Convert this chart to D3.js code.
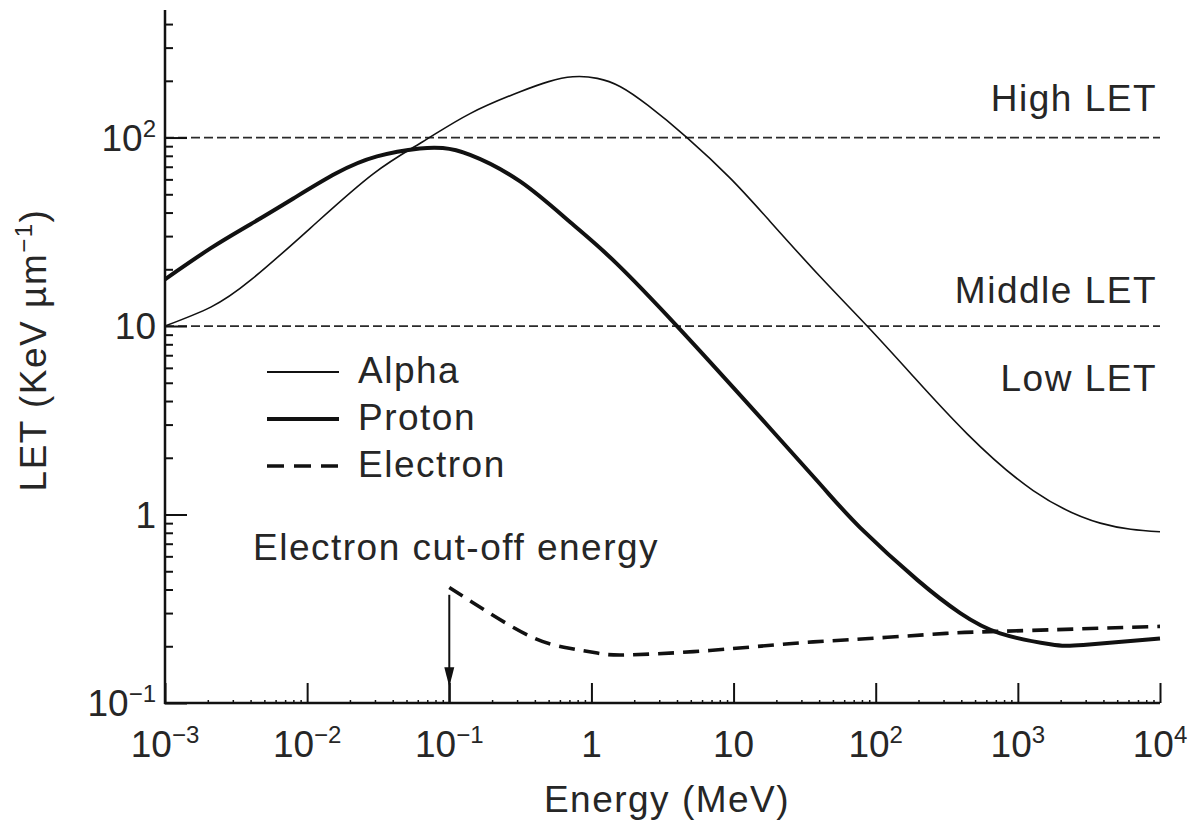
<!DOCTYPE html>
<html>
<head>
<meta charset="utf-8">
<script src="https://cdn.jsdelivr.net/npm/d3@7"></script>
<style>
  html, body { margin: 0; padding: 0; background: #fff; }
  svg { display: block; font-family: "Liberation Sans", Arial, sans-serif; }
</style>
</head>
<body>
<div class="plot-container"></div>
<script>
// energies in MeV, LET in keV/um
const alphaEnergy = [0.001, 0.0021, 0.004, 0.0105, 0.029, 0.065, 0.14, 0.315, 0.5, 0.74, 1.1, 1.6, 2.5, 4.7, 9.5, 18, 40.6, 87, 184, 440, 1282, 3800, 10000];
const alphaLET    = [10, 12.6, 17.5, 33, 64, 95, 134, 175, 198, 210, 206, 186, 148, 100, 60.7, 36, 18.3, 10, 5.4, 2.68, 1.34, 0.9, 0.81];

const protonEnergy = [0.001, 0.0021, 0.004, 0.008, 0.016, 0.031, 0.062, 0.09, 0.14, 0.315, 0.71, 1.5, 4.0, 10, 38.7, 78, 196, 393, 751, 1690, 2885, 10000];
const protonLET    = [17.7, 25.9, 34.7, 47.5, 64.6, 79.4, 87.5, 88, 81, 58.5, 35.5, 21.5, 10, 4.7, 1.51, 0.85, 0.45, 0.30, 0.234, 0.205, 0.203, 0.22];

const electronEnergy = [0.1, 0.185, 0.39, 0.7, 1.1, 1.8, 6.8, 25.8, 90, 313, 751, 10000];
const electronLET    = [0.41, 0.305, 0.222, 0.195, 0.184, 0.18, 0.19, 0.207, 0.22, 0.234, 0.24, 0.255];

const electronCutoff = 0.1;
const letThresholds = [100, 10];

const xTickValues = [1e-3, 1e-2, 1e-1, 1, 10, 100, 1e3, 1e4];
const xTickLabels = [["10", "\u22123"], ["10", "\u22122"], ["10", "\u22121"], ["1", ""], ["10", ""], ["10", "2"], ["10", "3"], ["10", "4"]];
const yTickValues = [0.1, 1, 10, 100];
const yTickLabels = [["10", "\u22121"], ["1", ""], ["10", ""], ["10", "2"]];

const legendNames = ["Alpha", "Proton", "Electron"];
const letRegionNames = ["High LET", "Middle LET", "Low LET"];

const width = 1201, height = 828;
const LEFT = 165, RIGHT = 1160, TOP = 10, BOTTOM = 703;
const INK = "#111";
const TEXT = "#262626";
const FONT = "37px";
const SPACING = "1.5px";

const svg = d3.select("div.plot-container").append("svg")
  .attr("width", width).attr("height", height);

const x = d3.scaleLog().domain([1e-3, 1e4]).range([LEFT, RIGHT]);
const y = d3.scaleLog().domain([0.1, 475]).range([BOTTOM, TOP]);

const line = d3.line()
  .x(d => x(d[0]))
  .y(d => y(d[1]))
  .curve(d3.curveNatural);

// LET threshold lines
svg.append("g")
  .selectAll("line")
  .data(letThresholds)
  .enter()
  .append("line")
  .attr("x1", LEFT).attr("x2", RIGHT)
  .attr("y1", d => y(d)).attr("y2", d => y(d))
  .attr("stroke", "#2a2a2a")
  .attr("stroke-width", 1.7)
  .attr("stroke-dasharray", "9,4");

// axes: ticks point into the plot
const yAxis = d3.axisRight(y)
  .tickValues(yTickValues)
  .tickSize(22)
  .tickSizeOuter(0)
  .tickFormat("");
const yMinor = d3.axisRight(y)
  .tickValues(y.ticks().filter(v => !yTickValues.includes(v)))
  .tickSize(8)
  .tickSizeOuter(0)
  .tickFormat("");
const xAxis = d3.axisTop(x)
  .tickValues(xTickValues)
  .tickSize(20)
  .tickSizeOuter(0)
  .tickFormat("");
const xMinor = d3.axisTop(x)
  .tickValues(x.ticks().filter(v => !xTickValues.includes(v)))
  .tickSize(3)
  .tickSizeOuter(0)
  .tickFormat("");

[yAxis, yMinor].forEach(ax => {
  svg.append("g").attr("transform", `translate(${LEFT},0)`).call(ax)
    .call(g => g.selectAll("line").attr("stroke", INK).attr("stroke-width", 2));
});
[xAxis, xMinor].forEach((ax, i) => {
  svg.append("g").attr("transform", `translate(0,${BOTTOM})`).call(ax)
    .call(g => g.selectAll("line").attr("stroke", INK).attr("stroke-width", i ? 1.5 : 2));
});
svg.selectAll(".domain").remove();
svg.append("line").attr("x1", LEFT).attr("x2", LEFT).attr("y1", TOP).attr("y2", BOTTOM + 1)
  .attr("stroke", INK).attr("stroke-width", 2.5);
svg.append("line").attr("x1", LEFT - 1).attr("x2", RIGHT).attr("y1", BOTTOM).attr("y2", BOTTOM)
  .attr("stroke", INK).attr("stroke-width", 2.5);

function powLabel(sel, parts) {
  sel.append("tspan").text(parts[0]);
  if (parts[1]) {
    sel.append("tspan").attr("dy", -14).style("font-size", "24px").text(parts[1]);
  }
}

// tick labels
svg.append("g")
  .selectAll("text")
  .data(xTickValues)
  .enter()
  .append("text")
  .attr("x", d => x(d))
  .attr("y", 757)
  .attr("text-anchor", "middle")
  .attr("fill", TEXT)
  .style("font-size", FONT)
  .each(function(d, i) { powLabel(d3.select(this), xTickLabels[i]); });

svg.append("g")
  .selectAll("text")
  .data(yTickValues)
  .enter()
  .append("text")
  .attr("x", 156)
  .attr("y", d => y(d) + 13)
  .attr("text-anchor", "end")
  .attr("fill", TEXT)
  .style("font-size", FONT)
  .each(function(d, i) { powLabel(d3.select(this), yTickLabels[i]); });

// axis titles
svg.append("text")
  .attr("x", 667).attr("y", 812)
  .attr("text-anchor", "middle")
  .attr("fill", TEXT)
  .style("font-size", FONT)
  .style("letter-spacing", SPACING)
  .text("Energy (MeV)");

const yTitle = svg.append("text")
  .attr("transform", "translate(46,350) rotate(-90)")
  .attr("text-anchor", "middle")
  .attr("fill", TEXT)
  .style("font-size", FONT)
  .style("letter-spacing", SPACING);
yTitle.append("tspan").text("LET (KeV \u00b5m");
yTitle.append("tspan").attr("dy", -14).style("font-size", "24px").text("\u22121");
yTitle.append("tspan").attr("dy", 14).text(")");

// curves
const series = [
  { name: "Alpha", data: d3.zip(alphaEnergy, alphaLET), width: 1.6, legendWidth: 2.2, dash: null },
  { name: "Proton", data: d3.zip(protonEnergy, protonLET), width: 4, legendWidth: 4, dash: null },
  { name: "Electron", data: d3.zip(electronEnergy, electronLET), width: 3.6, legendWidth: 3.6, dash: "16,9" }
];

svg.append("g")
  .selectAll("path")
  .data(series)
  .enter()
  .append("path")
  .attr("d", d => line(d.data))
  .attr("fill", "none")
  .attr("stroke", INK)
  .attr("stroke-width", d => d.width)
  .attr("stroke-dasharray", d => d.dash)
  .attr("stroke-linejoin", "round");

// LET region labels, placed around the threshold lines
const letLabelY = [y(letThresholds[0]) - 27, y(letThresholds[1]) - 23, y(letThresholds[1]) + 65];
svg.append("g")
  .selectAll("text")
  .data(letRegionNames)
  .enter()
  .append("text")
  .attr("x", 1157)
  .attr("y", (d, i) => letLabelY[i])
  .attr("text-anchor", "end")
  .attr("fill", TEXT)
  .style("font-size", FONT)
  .style("letter-spacing", SPACING)
  .text(d => d);

// legend
const legend = svg.append("g").attr("transform", "translate(267,372)");
legend.selectAll("line")
  .data(series)
  .enter()
  .append("line")
  .attr("x1", 0).attr("x2", 72)
  .attr("y1", (d, i) => i * 47).attr("y2", (d, i) => i * 47)
  .attr("stroke", INK)
  .attr("stroke-width", d => d.legendWidth)
  .attr("stroke-dasharray", d => d.dash ? "17,10" : null);
legend.selectAll("text")
  .data(legendNames)
  .enter()
  .append("text")
  .attr("x", 91)
  .attr("y", (d, i) => i * 47 + 11)
  .attr("fill", TEXT)
  .style("font-size", FONT)
  .style("letter-spacing", SPACING)
  .text(d => d);

// electron cut-off marker
svg.append("text")
  .attr("x", 253).attr("y", 560)
  .attr("fill", TEXT)
  .style("font-size", FONT)
  .style("letter-spacing", SPACING)
  .text("Electron cut-off energy");

const cx = x(electronCutoff);
svg.append("line")
  .attr("x1", cx).attr("x2", cx)
  .attr("y1", y(0.375)).attr("y2", BOTTOM)
  .attr("stroke", INK).attr("stroke-width", 2);
svg.append("path")
  .attr("d", `M${cx - 5},${y(0.155)} L${cx + 5},${y(0.155)} L${cx},${y(0.122)} Z`)
  .attr("fill", INK);
</script>
</body>
</html>
